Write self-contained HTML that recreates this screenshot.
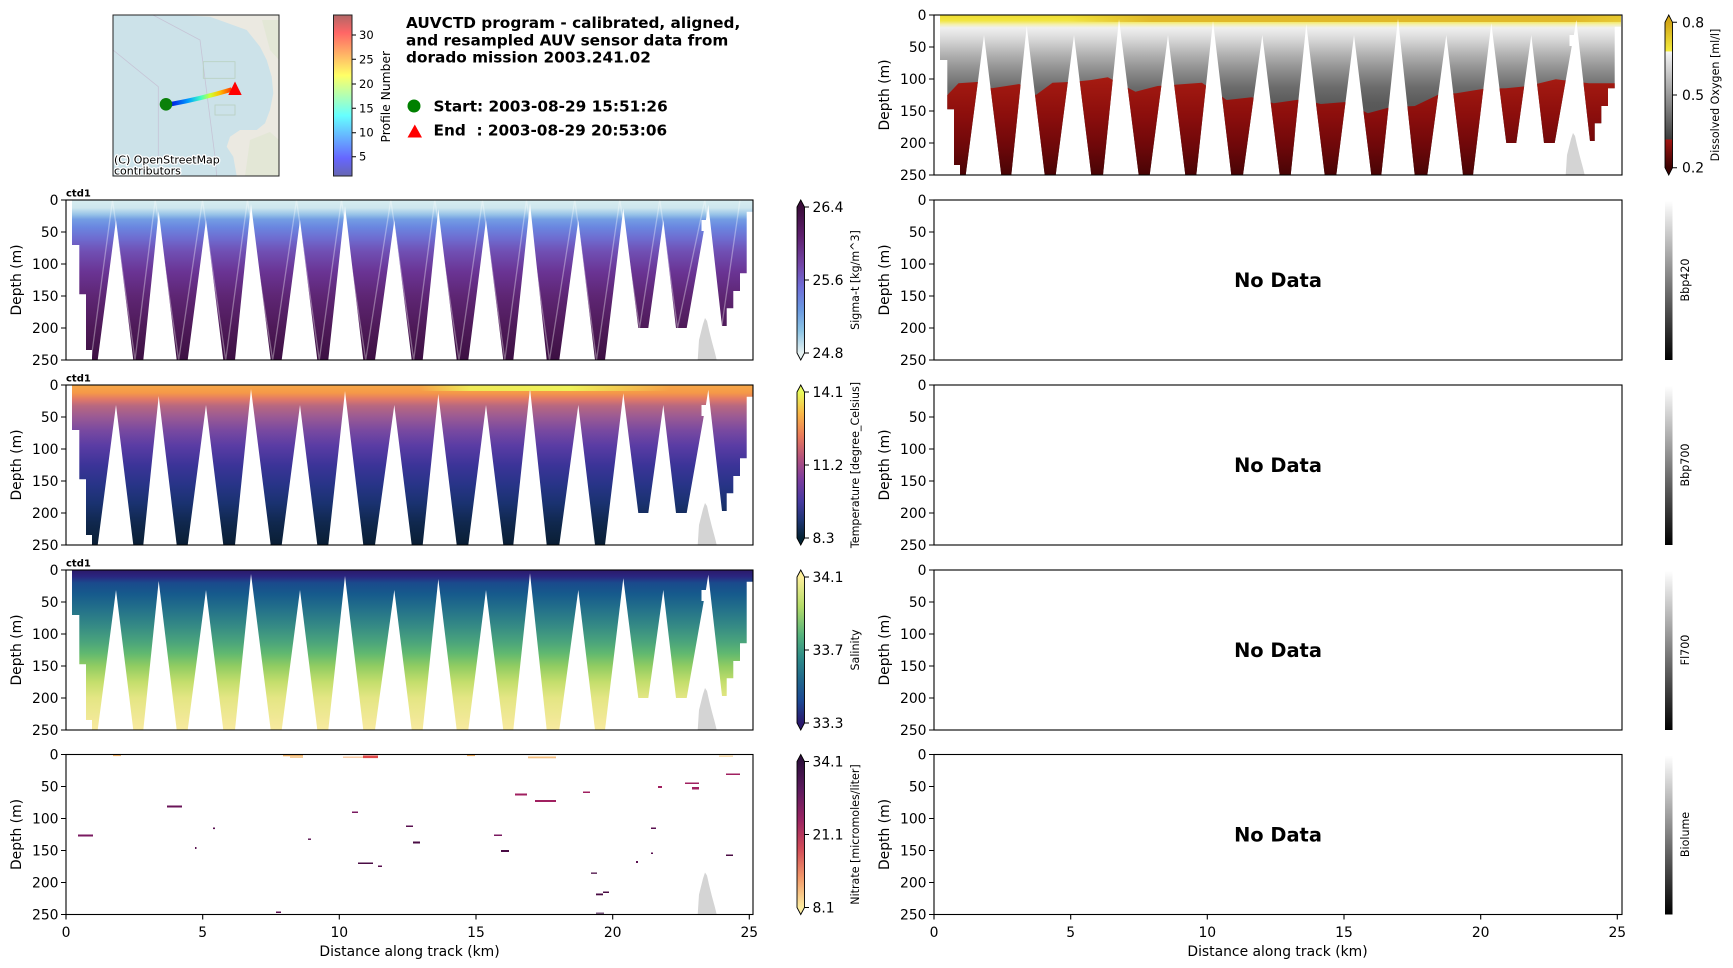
<!DOCTYPE html>
<html><head><meta charset="utf-8"><style>
html,body{margin:0;padding:0;background:#fff;}
body{width:1733px;height:968px;overflow:hidden;}
svg{display:block;}
</style></head><body>
<svg width="1733" height="968" viewBox="0 0 1733 968" xmlns="http://www.w3.org/2000/svg" font-family="'DejaVu Sans','Liberation Sans',sans-serif">
<defs>
<clipPath id="mk" clipPathUnits="userSpaceOnUse">
<polygon points="72,0 753,0 753,11.7 746.7,11.7 746.7,73.3 740,73.3 740,91 733.3,91 733.3,108.3 726.7,108.3 726.7,126 722,126 708.3,4.7 705.9,20 701.5,20 701.5,31 703.8,31 686.7,128 676,128 663.3,20 648.3,128 638.3,128 623.3,8.3 605,160 595,160 578.3,20 559.3,160 546.7,160 530,3.3 513.3,160 503.3,160 486,20 468.3,160 456.7,160 438.3,9 422.7,160 411.7,160 394.3,20 375,160 363.3,160 345,6 328.3,160 317.3,160 300,20 281.7,160 270.7,160 251,4 235,160 223.3,160 206,20 187.7,160 176.7,160 158.7,11 143.3,160 133.3,160 116,20 97.7,160 92,160 92,150 86,150 86,94.3 79.3,94.3 79.3,45 72,45"/>
</clipPath>
<clipPath id="mapclip"><rect x="113" y="15" width="166" height="161"/></clipPath>

<linearGradient id="gSig" gradientUnits="userSpaceOnUse" x1="0" y1="0" x2="0" y2="160">
<stop offset="0" stop-color="#d8eef0"/><stop offset="0.05" stop-color="#cde6ee"/><stop offset="0.09" stop-color="#98c4e8"/><stop offset="0.12" stop-color="#749ee4"/><stop offset="0.17" stop-color="#6a86e0"/><stop offset="0.24" stop-color="#6e6cd0"/><stop offset="0.32" stop-color="#7050b4"/><stop offset="0.45" stop-color="#6a3494"/><stop offset="0.6" stop-color="#5e2674"/><stop offset="0.8" stop-color="#4e1a58"/><stop offset="1" stop-color="#3c1042"/>
</linearGradient>
<linearGradient id="gTmp" gradientUnits="userSpaceOnUse" x1="0" y1="0" x2="0" y2="160">
<stop offset="0" stop-color="#f7a848"/><stop offset="0.05" stop-color="#f59848"/><stop offset="0.09" stop-color="#e07868"/><stop offset="0.13" stop-color="#b86880"/><stop offset="0.2" stop-color="#9a5a94"/><stop offset="0.28" stop-color="#7a4aa0"/><stop offset="0.38" stop-color="#5a3ca4"/><stop offset="0.5" stop-color="#3c3498"/><stop offset="0.62" stop-color="#283488"/><stop offset="0.74" stop-color="#1a3270"/><stop offset="0.86" stop-color="#10284e"/><stop offset="1" stop-color="#0a1e34"/>
</linearGradient>
<linearGradient id="gTy" gradientUnits="userSpaceOnUse" x1="420" y1="0" x2="670" y2="0">
<stop offset="0" stop-color="#eef25a" stop-opacity="0"/><stop offset="0.2" stop-color="#eef25a" stop-opacity="0.9"/><stop offset="0.6" stop-color="#eef25a" stop-opacity="1"/><stop offset="1" stop-color="#eef25a" stop-opacity="0"/>
</linearGradient>
<linearGradient id="gSal" gradientUnits="userSpaceOnUse" x1="0" y1="0" x2="0" y2="160">
<stop offset="0" stop-color="#2c1a6a"/><stop offset="0.04" stop-color="#2a2580"/><stop offset="0.08" stop-color="#1a4a8c"/><stop offset="0.15" stop-color="#165a8c"/><stop offset="0.25" stop-color="#24728a"/><stop offset="0.35" stop-color="#358a85"/><stop offset="0.45" stop-color="#4aa47c"/><stop offset="0.52" stop-color="#60b870"/><stop offset="0.6" stop-color="#90cc62"/><stop offset="0.7" stop-color="#c4de6c"/><stop offset="0.8" stop-color="#e4e684"/><stop offset="1" stop-color="#f8eaa0"/>
</linearGradient>
<linearGradient id="gOx" gradientUnits="userSpaceOnUse" x1="0" y1="0" x2="0" y2="160">
<stop offset="0" stop-color="#eedc30"/><stop offset="0.035" stop-color="#f2e642"/><stop offset="0.06" stop-color="#f4f0b0"/><stop offset="0.08" stop-color="#f0f0f0"/><stop offset="0.15" stop-color="#d8d8d8"/><stop offset="0.25" stop-color="#b0b0b0"/><stop offset="0.35" stop-color="#8c8c8c"/><stop offset="0.45" stop-color="#6c6c6c"/><stop offset="0.55" stop-color="#5a5a5a"/><stop offset="1" stop-color="#404040"/>
</linearGradient>
<linearGradient id="gOxGold" gradientUnits="userSpaceOnUse" x1="200" y1="0" x2="760" y2="0">
<stop offset="0" stop-color="#dfb426" stop-opacity="0"/><stop offset="0.15" stop-color="#dfb426" stop-opacity="0.9"/><stop offset="0.9" stop-color="#dfb426" stop-opacity="0.9"/><stop offset="1" stop-color="#dfb426" stop-opacity="0.5"/>
</linearGradient>
<linearGradient id="gRed" gradientUnits="userSpaceOnUse" x1="0" y1="60" x2="0" y2="160">
<stop offset="0" stop-color="#a81c12"/><stop offset="0.4" stop-color="#8c0e0c"/><stop offset="0.7" stop-color="#70080a"/><stop offset="1" stop-color="#480405"/>
</linearGradient>

<linearGradient id="cSig" gradientUnits="userSpaceOnUse" x1="0" y1="7" x2="0" y2="153">
<stop offset="0" stop-color="#3b0d3a"/><stop offset="0.2" stop-color="#5e1f6e"/><stop offset="0.4" stop-color="#7346a8"/><stop offset="0.55" stop-color="#6f6ed8"/><stop offset="0.7" stop-color="#6a98e0"/><stop offset="0.85" stop-color="#8cc4e4"/><stop offset="1" stop-color="#e6f1f1"/>
</linearGradient>
<linearGradient id="cTmp" gradientUnits="userSpaceOnUse" x1="0" y1="7" x2="0" y2="153">
<stop offset="0" stop-color="#e8fa5b"/><stop offset="0.15" stop-color="#f9b546"/><stop offset="0.3" stop-color="#ea7a5a"/><stop offset="0.45" stop-color="#b4527c"/><stop offset="0.6" stop-color="#7b3c9e"/><stop offset="0.75" stop-color="#463aa0"/><stop offset="0.88" stop-color="#1e3573"/><stop offset="1" stop-color="#042333"/>
</linearGradient>
<linearGradient id="cSal" gradientUnits="userSpaceOnUse" x1="0" y1="7" x2="0" y2="153">
<stop offset="0" stop-color="#fdef9a"/><stop offset="0.2" stop-color="#b4dc68"/><stop offset="0.4" stop-color="#54b27c"/><stop offset="0.55" stop-color="#2e8c88"/><stop offset="0.7" stop-color="#20688c"/><stop offset="0.85" stop-color="#1c4894"/><stop offset="1" stop-color="#2a186c"/>
</linearGradient>
<linearGradient id="cNit" gradientUnits="userSpaceOnUse" x1="0" y1="7" x2="0" y2="153">
<stop offset="0" stop-color="#2f0f3d"/><stop offset="0.2" stop-color="#5e1a5e"/><stop offset="0.4" stop-color="#9a2462"/><stop offset="0.6" stop-color="#d24c58"/><stop offset="0.8" stop-color="#f29a6a"/><stop offset="1" stop-color="#fdeda0"/>
</linearGradient>
<linearGradient id="cOx" gradientUnits="userSpaceOnUse" x1="0" y1="7.3" x2="0" y2="152.7">
<stop offset="0" stop-color="#d2a616"/><stop offset="0.199" stop-color="#f4ec3e"/><stop offset="0.2" stop-color="#f6f6f6"/><stop offset="0.804" stop-color="#3c3c3c"/><stop offset="0.806" stop-color="#a21612"/><stop offset="1" stop-color="#3a0202"/>
</linearGradient>
<linearGradient id="cGray" x1="0" y1="0" x2="0" y2="1">
<stop offset="0" stop-color="#ffffff"/><stop offset="1" stop-color="#000000"/>
</linearGradient>
<linearGradient id="cJet" x1="0" y1="0" x2="0" y2="1">
<stop offset="0" stop-color="#b26666"/><stop offset="0.11" stop-color="#ff6666"/><stop offset="0.375" stop-color="#ffff66"/><stop offset="0.5" stop-color="#b2ffb2"/><stop offset="0.625" stop-color="#66ffff"/><stop offset="0.89" stop-color="#6666ff"/><stop offset="1" stop-color="#6666b2"/>
</linearGradient>
<linearGradient id="gTrack" gradientUnits="userSpaceOnUse" x1="170" y1="0" x2="232" y2="0">
<stop offset="0" stop-color="#0010e0"/><stop offset="0.3" stop-color="#00a0ff"/><stop offset="0.5" stop-color="#40ffc0"/><stop offset="0.65" stop-color="#d0ff30"/><stop offset="0.8" stop-color="#ffc000"/><stop offset="1" stop-color="#ff3000"/>
</linearGradient>
</defs>

<rect x="0" y="0" width="1733" height="968" fill="#fff"/>

<!-- ===== MAP ===== -->
<g clip-path="url(#mapclip)">
<rect x="113" y="15" width="166" height="161" fill="#cce2e9"/>
<path d="M176.7,15 L210,16.7 L246.7,30 L260,46.7 L266.7,60 L271.7,76.7 L273.3,93.3 L270,110 L265,123.3 L256.7,130 L240,130 L230,136.7 L226.7,146.7 L233.3,156.7 L236.7,176 L280,176 L280,15 Z" fill="#ebe9e1"/>
<path d="M250,140 L270,132 L279,140 L279,176 L245,176 Z" fill="#dfe6d2" opacity="0.7"/>
<path d="M262,20 L279,20 L279,60 L270,50 Z" fill="#dfe6d2" opacity="0.7"/>
<g fill="none" stroke="#c6c4d6" stroke-width="0.8">
<path d="M113,50 L158.3,86.7 L158.3,176"/>
<path d="M153,15 L200,40 L215,156.7 L216.7,176"/>
<rect x="203.3" y="61.7" width="31.7" height="16.6" stroke="#b8d0c0"/>
<rect x="215" y="105" width="20" height="10" stroke="#b8d0c0"/>
</g>
<path d="M170,104.3 Q200,99 231.7,89.5" fill="none" stroke="url(#gTrack)" stroke-width="4.5"/>
<circle cx="166" cy="104.3" r="6.3" fill="#0a800a"/>
<polygon points="235,81.5 228.3,95 241.7,95" fill="#ff0000"/>
<g font-size="11" fill="#000" stroke="#fff" stroke-width="2.5" paint-order="stroke" stroke-linejoin="round">
<text x="114" y="163.5">(C) OpenStreetMap</text>
<text x="114" y="174.5">contributors</text>
</g>
</g>
<rect x="113" y="15" width="166" height="161" fill="none" stroke="#222" stroke-width="1"/>

<!-- Profile colorbar -->
<rect x="333.5" y="15" width="18.5" height="161" fill="url(#cJet)" stroke="#222" stroke-width="1"/>
<g stroke="#000" stroke-width="1">
<path d="M352,35H356M352,59.3H356M352,84H356M352,108.3H356M352,132.7H356M352,156.7H356"/>
</g>
<g font-size="11.5" fill="#000">
<text x="359" y="39">30</text>
<text x="359" y="63.3">25</text>
<text x="359" y="88">20</text>
<text x="359" y="112.3">15</text>
<text x="359" y="136.7">10</text>
<text x="359" y="160.7">5</text>
</g>
<text transform="translate(390,96.7) rotate(-90)" text-anchor="middle" font-size="12.3" fill="#000">Profile Number</text>

<!-- Title -->
<g font-size="15.3" font-weight="bold" fill="#000">
<text x="406" y="28">AUVCTD program - calibrated, aligned,</text>
<text x="406" y="45.3">and resampled AUV sensor data from</text>
<text x="406" y="62.6">dorado mission 2003.241.02</text>
<text x="433.5" y="111.5">Start: 2003-08-29 15:51:26</text>
<text x="433.5" y="135.5">End &#160;: 2003-08-29 20:53:06</text>
</g>
<circle cx="414" cy="106" r="6.5" fill="#008000"/>
<polygon points="414.8,124.5 407.5,137.5 422,137.5" fill="#ff0000"/>

<!-- ===== LEFT ROW 2: SIGMA-T ===== -->
<g transform="translate(0,200)">
<g clip-path="url(#mk)">
<rect x="60" y="0" width="700" height="160" fill="url(#gSig)"/>
<polyline points="91,160 112.5,0 135,160 155.2,0 178.7,160 202.5,0 225.7,160 247.5,0 272.7,160 296.5,0 319.3,160 341.5,0 365.7,160 390.8,0 413.7,160 434.8,0 459,160 482.5,0 504.8,160 526.5,0 549.5,160 574.8,0 596.5,160 619.8,0 639.5,128 659.8,0 677.5,128 704.8,0 721.5,128 740,0" fill="none" stroke="#ffffff" stroke-opacity="0.35" stroke-width="1.3"/>
</g>
<polygon points="697.7,160 699,140 701,132 703,124 705,118 707,121 709,130 712,142 715,153 716.7,160" fill="#d4d4d4"/>
<rect x="66" y="0" width="687" height="160" fill="none" stroke="#000" stroke-width="1.1"/>
<path d="M61,0H66M61,32H66M61,64H66M61,96H66M61,128H66M61,160H66" stroke="#000" stroke-width="1.1"/>
<g font-size="13.9" text-anchor="end" fill="#000">
<text x="58.5" y="5">0</text><text x="58.5" y="37">50</text><text x="58.5" y="69">100</text><text x="58.5" y="101">150</text><text x="58.5" y="133">200</text><text x="58.5" y="165">250</text>
</g>
<text transform="translate(21,80) rotate(-90)" text-anchor="middle" font-size="13.9" fill="#000">Depth (m)</text>
<text x="66" y="-3.3" font-size="10" font-weight="bold" fill="#000">ctd1</text>
<path d="M797,7 L800.75,0 L804.5,7 V153 L800.75,160 L797,153 Z" fill="url(#cSig)" stroke="#000" stroke-width="0.9"/>
<path d="M804.5,7H809M804.5,80H809M804.5,153H809" stroke="#000" stroke-width="1"/>
<g font-size="13.9" fill="#000">
<text x="812.5" y="12">26.4</text><text x="812.5" y="85">25.6</text><text x="812.5" y="158">24.8</text>
</g>
<text transform="translate(859,80) rotate(-90)" text-anchor="middle" font-size="11.1" fill="#000">Sigma-t [kg/m^3]</text>
</g>

<!-- ===== LEFT ROW 3: TEMPERATURE ===== -->
<g transform="translate(0,385)">
<g clip-path="url(#mk)">
<rect x="60" y="0" width="700" height="160" fill="url(#gTmp)"/>
<rect x="420" y="0" width="250" height="6" fill="url(#gTy)"/>
</g>
<polygon points="697.7,160 699,140 701,132 703,124 705,118 707,121 709,130 712,142 715,153 716.7,160" fill="#d4d4d4"/>
<rect x="66" y="0" width="687" height="160" fill="none" stroke="#000" stroke-width="1.1"/>
<path d="M61,0H66M61,32H66M61,64H66M61,96H66M61,128H66M61,160H66" stroke="#000" stroke-width="1.1"/>
<g font-size="13.9" text-anchor="end" fill="#000">
<text x="58.5" y="5">0</text><text x="58.5" y="37">50</text><text x="58.5" y="69">100</text><text x="58.5" y="101">150</text><text x="58.5" y="133">200</text><text x="58.5" y="165">250</text>
</g>
<text transform="translate(21,80) rotate(-90)" text-anchor="middle" font-size="13.9" fill="#000">Depth (m)</text>
<text x="66" y="-3.3" font-size="10" font-weight="bold" fill="#000">ctd1</text>
<path d="M797,7 L800.75,0 L804.5,7 V153 L800.75,160 L797,153 Z" fill="url(#cTmp)" stroke="#000" stroke-width="0.9"/>
<path d="M804.5,7H809M804.5,80H809M804.5,153H809" stroke="#000" stroke-width="1"/>
<g font-size="13.9" fill="#000">
<text x="812.5" y="12">14.1</text><text x="812.5" y="85">11.2</text><text x="812.5" y="158">8.3</text>
</g>
<text transform="translate(859,80) rotate(-90)" text-anchor="middle" font-size="11.1" fill="#000">Temperature [degree_Celsius]</text>
</g>

<!-- ===== LEFT ROW 4: SALINITY ===== -->
<g transform="translate(0,570)">
<g clip-path="url(#mk)">
<rect x="60" y="0" width="700" height="160" fill="url(#gSal)"/>
</g>
<polygon points="697.7,160 699,140 701,132 703,124 705,118 707,121 709,130 712,142 715,153 716.7,160" fill="#d4d4d4"/>
<rect x="66" y="0" width="687" height="160" fill="none" stroke="#000" stroke-width="1.1"/>
<path d="M61,0H66M61,32H66M61,64H66M61,96H66M61,128H66M61,160H66" stroke="#000" stroke-width="1.1"/>
<g font-size="13.9" text-anchor="end" fill="#000">
<text x="58.5" y="5">0</text><text x="58.5" y="37">50</text><text x="58.5" y="69">100</text><text x="58.5" y="101">150</text><text x="58.5" y="133">200</text><text x="58.5" y="165">250</text>
</g>
<text transform="translate(21,80) rotate(-90)" text-anchor="middle" font-size="13.9" fill="#000">Depth (m)</text>
<text x="66" y="-3.3" font-size="10" font-weight="bold" fill="#000">ctd1</text>
<path d="M797,7 L800.75,0 L804.5,7 V153 L800.75,160 L797,153 Z" fill="url(#cSal)" stroke="#000" stroke-width="0.9"/>
<path d="M804.5,7H809M804.5,80H809M804.5,153H809" stroke="#000" stroke-width="1"/>
<g font-size="13.9" fill="#000">
<text x="812.5" y="12">34.1</text><text x="812.5" y="85">33.7</text><text x="812.5" y="158">33.3</text>
</g>
<text transform="translate(859,80) rotate(-90)" text-anchor="middle" font-size="11.1" fill="#000">Salinity</text>
</g>

<!-- ===== LEFT ROW 5: NITRATE ===== -->
<g>
<rect x="113" y="754.5" width="8" height="1.6" fill="#f4b870"/>
<rect x="283" y="754.8" width="20" height="1.5" fill="#f4b870"/>
<rect x="290" y="756.5" width="13" height="1.4" fill="#f5c890"/>
<rect x="343" y="756.5" width="20" height="1.4" fill="#f8c8a0"/>
<rect x="363" y="755.5" width="15" height="2.6" fill="#e04848"/>
<rect x="467" y="754.5" width="8" height="1.6" fill="#f0b060"/>
<rect x="528" y="756.5" width="28" height="1.8" fill="#f5c080"/>
<rect x="719" y="755.5" width="14" height="1.3" fill="#f8d8a0"/>
<rect x="726" y="773.5" width="14" height="1.5" fill="#a02060"/>
<rect x="685" y="782.5" width="14" height="1.5" fill="#a02060"/>
<rect x="692" y="787" width="7" height="2.5" fill="#a02060"/>
<rect x="658" y="786" width="4" height="2" fill="#a02060"/>
<rect x="583" y="791.5" width="7" height="1.5" fill="#a02060"/>
<rect x="515" y="793.5" width="12" height="2" fill="#a02060"/>
<rect x="535" y="800" width="21" height="2" fill="#a02060"/>
<rect x="78" y="834.5" width="15" height="2" fill="#7a1a60"/>
<rect x="167" y="805.5" width="15" height="2" fill="#6a1458"/>
<rect x="213" y="827.5" width="2" height="1.6" fill="#5a1050"/>
<rect x="195" y="847" width="1.5" height="2" fill="#5a1050"/>
<rect x="276" y="911.5" width="5" height="1.5" fill="#5a1050"/>
<rect x="308" y="838.5" width="3" height="1.4" fill="#5a1050"/>
<rect x="352" y="811.5" width="6" height="1.5" fill="#7a1a60"/>
<rect x="358" y="862.5" width="15" height="1.5" fill="#4a0c44"/>
<rect x="378" y="865.5" width="4" height="1.5" fill="#5a1050"/>
<rect x="406" y="825.5" width="7" height="1.5" fill="#5a1050"/>
<rect x="413" y="841.5" width="7" height="2" fill="#4a0c44"/>
<rect x="494" y="834.5" width="8" height="1.5" fill="#7a1a60"/>
<rect x="501" y="850" width="8" height="2" fill="#4a0c44"/>
<rect x="651" y="827.5" width="5" height="1.5" fill="#5a1050"/>
<rect x="651" y="852.5" width="2" height="1.5" fill="#5a1050"/>
<rect x="636" y="861" width="2" height="2" fill="#5a1050"/>
<rect x="726" y="854.5" width="7" height="1.5" fill="#4a0c44"/>
<rect x="591" y="872.5" width="6" height="1.3" fill="#4a0c44"/>
<rect x="596" y="893.5" width="7" height="1.8" fill="#4a0c44"/>
<rect x="603" y="891.5" width="6" height="1.5" fill="#4a0c44"/>
<rect x="596" y="912.5" width="8" height="1.5" fill="#7a5a80"/>
<rect x="380" y="865.5" width="2" height="1" fill="#5a1050"/>
</g>
<g transform="translate(0,754.5)">
<polygon points="697.7,160 699,140 701,132 703,124 705,118 707,121 709,130 712,142 715,153 716.7,160" fill="#d4d4d4"/>
<rect x="66" y="0" width="687" height="160" fill="none" stroke="#000" stroke-width="1.1"/>
<path d="M61,0H66M61,32H66M61,64H66M61,96H66M61,128H66M61,160H66" stroke="#000" stroke-width="1.1"/>
<path d="M66,160V165M202.7,160V165M339.3,160V165M476,160V165M612.7,160V165M749.3,160V165" stroke="#000" stroke-width="1.1"/>
<g font-size="13.9" text-anchor="end" fill="#000">
<text x="58.5" y="5">0</text><text x="58.5" y="37">50</text><text x="58.5" y="69">100</text><text x="58.5" y="101">150</text><text x="58.5" y="133">200</text><text x="58.5" y="165">250</text>
</g>
<g font-size="13.9" text-anchor="middle" fill="#000">
<text x="66" y="182.5">0</text><text x="202.7" y="182.5">5</text><text x="339.3" y="182.5">10</text><text x="476" y="182.5">15</text><text x="612.7" y="182.5">20</text><text x="749.3" y="182.5">25</text>
<text x="409.5" y="201.5">Distance along track (km)</text>
</g>
<text transform="translate(21,80) rotate(-90)" text-anchor="middle" font-size="13.9" fill="#000">Depth (m)</text>
<path d="M797,7 L800.75,0 L804.5,7 V153 L800.75,160 L797,153 Z" fill="url(#cNit)" stroke="#000" stroke-width="0.9"/>
<path d="M804.5,7H809M804.5,80H809M804.5,153H809" stroke="#000" stroke-width="1"/>
<g font-size="13.9" fill="#000">
<text x="812.5" y="12">34.1</text><text x="812.5" y="85">21.1</text><text x="812.5" y="158">8.1</text>
</g>
<text transform="translate(859,80) rotate(-90)" text-anchor="middle" font-size="11.1" fill="#000">Nitrate [micromoles/liter]</text>
</g>

<!-- ===== RIGHT ROW 1: OXYGEN ===== -->
<g transform="translate(868,15)">
<g clip-path="url(#mk)">
<rect x="60" y="0" width="700" height="160" fill="url(#gOx)"/>
<rect x="200" y="0" width="560" height="7" fill="url(#gOxGold)"/>
<polygon points="60,80 79.4,80 90.5,68.3 112.6,66.7 123.7,73.3 151.3,69 167.9,80 184.5,67.7 206.6,66.7 223.2,65 239.8,62.3 267.5,76.7 289.6,71 333.9,67.7 358.7,85 383.6,82.3 405.7,88.3 433.4,84.3 452.8,89 477.7,87 499.8,98.3 521.9,92.3 546.8,91 571.7,79 588.3,78.3 615.9,73.7 638,73.3 660.2,71 687.8,64.3 721,68.3 760,68.3 760,160 60,160" fill="url(#gRed)"/>
</g>
<polygon points="697.7,160 699,140 701,132 703,124 705,118 707,121 709,130 712,142 715,153 716.7,160" fill="#d4d4d4"/>
<rect x="66" y="0" width="688" height="160" fill="none" stroke="#000" stroke-width="1.1"/>
<path d="M61,0H66M61,32H66M61,64H66M61,96H66M61,128H66M61,160H66" stroke="#000" stroke-width="1.1"/>
<g font-size="13.9" text-anchor="end" fill="#000">
<text x="58.5" y="5">0</text><text x="58.5" y="37">50</text><text x="58.5" y="69">100</text><text x="58.5" y="101">150</text><text x="58.5" y="133">200</text><text x="58.5" y="165">250</text>
</g>
<text transform="translate(21,80) rotate(-90)" text-anchor="middle" font-size="13.9" fill="#000">Depth (m)</text>
<path d="M797,7.3 L800.75,0 L804.5,7.3 V152.7 L800.75,160 L797,152.7 Z" fill="url(#cOx)" stroke="#000" stroke-width="0.9"/>
<path d="M804.5,7.3H809M804.5,80H809M804.5,152.7H809" stroke="#000" stroke-width="1"/>
<g font-size="13.9" fill="#000">
<text x="814" y="12.3">0.8</text><text x="814" y="85">0.5</text><text x="814" y="157.7">0.2</text>
</g>
<text transform="translate(851,80) rotate(-90)" text-anchor="middle" font-size="11.1" fill="#000">Dissolved Oxygen [ml/l]</text>
</g>

<!-- ===== RIGHT ROWS 2-5: NO DATA ===== -->
<g transform="translate(868,200)">
<rect x="66" y="0" width="688" height="160" fill="none" stroke="#000" stroke-width="1.1"/>
<path d="M61,0H66M61,32H66M61,64H66M61,96H66M61,128H66M61,160H66" stroke="#000" stroke-width="1.1"/>
<g font-size="13.9" text-anchor="end" fill="#000">
<text x="58.5" y="5">0</text><text x="58.5" y="37">50</text><text x="58.5" y="69">100</text><text x="58.5" y="101">150</text><text x="58.5" y="133">200</text><text x="58.5" y="165">250</text>
</g>
<text transform="translate(21,80) rotate(-90)" text-anchor="middle" font-size="13.9" fill="#000">Depth (m)</text>
<text x="410" y="87" text-anchor="middle" font-size="19.4" font-weight="bold" fill="#000">No Data</text>
<rect x="797" y="1" width="7.5" height="159" fill="url(#cGray)"/>
<text transform="translate(821,80) rotate(-90)" text-anchor="middle" font-size="11.1" fill="#000">Bbp420</text>
</g>
<g transform="translate(868,385)">
<rect x="66" y="0" width="688" height="160" fill="none" stroke="#000" stroke-width="1.1"/>
<path d="M61,0H66M61,32H66M61,64H66M61,96H66M61,128H66M61,160H66" stroke="#000" stroke-width="1.1"/>
<g font-size="13.9" text-anchor="end" fill="#000">
<text x="58.5" y="5">0</text><text x="58.5" y="37">50</text><text x="58.5" y="69">100</text><text x="58.5" y="101">150</text><text x="58.5" y="133">200</text><text x="58.5" y="165">250</text>
</g>
<text transform="translate(21,80) rotate(-90)" text-anchor="middle" font-size="13.9" fill="#000">Depth (m)</text>
<text x="410" y="87" text-anchor="middle" font-size="19.4" font-weight="bold" fill="#000">No Data</text>
<rect x="797" y="1" width="7.5" height="159" fill="url(#cGray)"/>
<text transform="translate(821,80) rotate(-90)" text-anchor="middle" font-size="11.1" fill="#000">Bbp700</text>
</g>
<g transform="translate(868,570)">
<rect x="66" y="0" width="688" height="160" fill="none" stroke="#000" stroke-width="1.1"/>
<path d="M61,0H66M61,32H66M61,64H66M61,96H66M61,128H66M61,160H66" stroke="#000" stroke-width="1.1"/>
<g font-size="13.9" text-anchor="end" fill="#000">
<text x="58.5" y="5">0</text><text x="58.5" y="37">50</text><text x="58.5" y="69">100</text><text x="58.5" y="101">150</text><text x="58.5" y="133">200</text><text x="58.5" y="165">250</text>
</g>
<text transform="translate(21,80) rotate(-90)" text-anchor="middle" font-size="13.9" fill="#000">Depth (m)</text>
<text x="410" y="87" text-anchor="middle" font-size="19.4" font-weight="bold" fill="#000">No Data</text>
<rect x="797" y="1" width="7.5" height="159" fill="url(#cGray)"/>
<text transform="translate(821,80) rotate(-90)" text-anchor="middle" font-size="11.1" fill="#000">Fl700</text>
</g>
<g transform="translate(868,754.5)">
<rect x="66" y="0" width="688" height="160" fill="none" stroke="#000" stroke-width="1.1"/>
<path d="M61,0H66M61,32H66M61,64H66M61,96H66M61,128H66M61,160H66" stroke="#000" stroke-width="1.1"/>
<path d="M66,160V165M202.7,160V165M339.3,160V165M476,160V165M612.7,160V165M749.3,160V165" stroke="#000" stroke-width="1.1"/>
<g font-size="13.9" text-anchor="end" fill="#000">
<text x="58.5" y="5">0</text><text x="58.5" y="37">50</text><text x="58.5" y="69">100</text><text x="58.5" y="101">150</text><text x="58.5" y="133">200</text><text x="58.5" y="165">250</text>
</g>
<g font-size="13.9" text-anchor="middle" fill="#000">
<text x="66" y="182.5">0</text><text x="202.7" y="182.5">5</text><text x="339.3" y="182.5">10</text><text x="476" y="182.5">15</text><text x="612.7" y="182.5">20</text><text x="749.3" y="182.5">25</text>
<text x="409.5" y="201.5">Distance along track (km)</text>
</g>
<text transform="translate(21,80) rotate(-90)" text-anchor="middle" font-size="13.9" fill="#000">Depth (m)</text>
<text x="410" y="87" text-anchor="middle" font-size="19.4" font-weight="bold" fill="#000">No Data</text>
<rect x="797" y="1" width="7.5" height="159" fill="url(#cGray)"/>
<text transform="translate(821,80) rotate(-90)" text-anchor="middle" font-size="11.1" fill="#000">Biolume</text>
</g>
</svg>
</body></html>
